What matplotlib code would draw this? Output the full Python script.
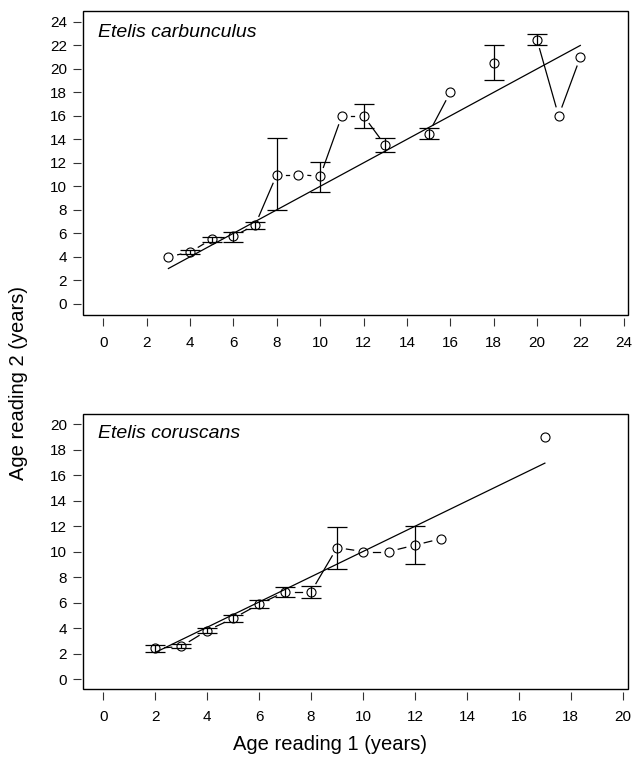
import numpy as np
import matplotlib
matplotlib.use('Agg')
import matplotlib.pyplot as plt
from matplotlib.patches import Rectangle

plt.rcParams['font.family'] = ['Liberation Sans', 'DejaVu Sans']

# -----------
# age readings, Etelis carbunculus (top panel)
# -----------
carb_x = [3, 4, 5, 6, 7, 8, 9, 10, 11, 12, 13, 15, 16, 18, 20, 21, 22]
carb_y = [4.0, 4.4, 5.5, 5.75, 6.7, 11.0, 11.0, 10.85, 16.0, 16.0, 13.5, 14.5, 18.0, 20.5, 22.5, 16.0, 21.0]
carb_lo = [np.nan, 4.2, 5.3, 5.3, 6.35, 8.0, np.nan, 9.55, np.nan, 15.0, 12.9, 14.0, np.nan, 19.05, 22.0, np.nan, np.nan]
carb_hi = [np.nan, 4.6, 5.7, 6.15, 7.0, 14.1, np.nan, 12.1, np.nan, 17.0, 14.15, 15.0, np.nan, 22.0, 23.0, np.nan, np.nan]
carb_fit = [3, 22]          # x range of the 1:1 line
carb_coef = [0.0, 1.0]      # intercept, slope

# -----------
# age readings, Etelis coruscans (bottom panel)
# -----------
cor_x = [2, 3, 4, 5, 6, 7, 8, 9, 10, 11, 12, 13, 17]
cor_y = [2.4, 2.55, 3.8, 4.75, 5.87, 6.84, 6.84, 10.3, 10.0, 10.0, 10.5, 11.0, 19.0]
cor_lo = [2.15, 2.4, 3.58, 4.5, 5.55, 6.45, 6.38, 8.6, np.nan, np.nan, 9.0, np.nan, np.nan]
cor_hi = [2.7, 2.75, 3.97, 5.0, 6.18, 7.24, 7.3, 11.9, np.nan, np.nan, 12.0, np.nan, np.nan]
cor_fit = [2, 17]
cor_coef = [0.1, 0.99]

W, H = 638, 760
fig = plt.figure(figsize=(W / 100, H / 100), dpi=100)


def b_lines(ax, x, y, gap=9.5):
    # R type="b": segments between neighbouring ages, cut short round each point
    tr = ax.transData
    for i in range(len(x) - 1):
        if x[i + 1] - x[i] != 1:
            continue
        p0 = tr.transform((x[i], y[i]))
        p1 = tr.transform((x[i + 1], y[i + 1]))
        d = p1 - p0
        L = np.hypot(*d)
        if L <= 2 * gap:
            continue
        u = d / L
        q0 = tr.inverted().transform(p0 + u * gap)
        q1 = tr.inverted().transform(p1 - u * gap)
        ax.plot([q0[0], q1[0]], [q0[1], q1[1]], color='black', lw=0.9)


def panel(rect, x, y, lo, hi, fit, coef, xlim, ylim, ticks_x, ticks_y, name):
    ax = fig.add_axes(rect)
    ax.set_xlim(xlim)
    ax.set_ylim(ylim)
    for s in ax.spines.values():
        s.set_visible(False)
    ax.spines['bottom'].set_position(('outward', 2))
    ax.spines['left'].set_position(('outward', 1.5))
    ax.add_patch(Rectangle((0, 0), 1, 1, transform=ax.transAxes, fill=False,
                           edgecolor='black', lw=1.0, clip_on=False))
    ax.set_xticks(ticks_x)
    ax.set_yticks(ticks_y)
    ax.tick_params(direction='out', length=6, width=0.8, color='#333333',
                   labelsize=11, pad=7)
    ax.tick_params(axis='y', pad=4)

    b_lines(ax, x, y)
    fx = np.array(fit)
    ax.plot(fx, coef[0] + coef[1] * fx, color='black', lw=0.9)

    x = np.array(x, float)
    lo = np.array(lo, float)
    hi = np.array(hi, float)
    m = ~np.isnan(lo)
    ax.errorbar(x[m], (lo[m] + hi[m]) / 2, yerr=(hi[m] - lo[m]) / 2, fmt='none',
                ecolor='black', elinewidth=0.9, capsize=7, capthick=0.9)
    ax.plot(x, y, 'o', ms=6.5, mfc='none', mec='black', mew=0.8)

    ax.text(0.028, 0.93, name, transform=ax.transAxes, fontsize=14,
            style='italic', va='center', ha='left')
    return ax


panel([83 / W, 1 - 315 / H, 545 / W, 304.3 / H], carb_x, carb_y, carb_lo, carb_hi,
      carb_fit, carb_coef, (-0.94, 24.2), (-0.96, 24.96),
      range(0, 25, 2), range(0, 25, 2), 'Etelis carbunculus')

panel([83 / W, 1 - 689.2 / H, 545 / W, 275.4 / H], cor_x, cor_y, cor_lo, cor_hi,
      cor_fit, cor_coef, (-0.78, 20.2), (-0.8, 20.8),
      range(0, 21, 2), range(0, 21, 2), 'Etelis coruscans')

fig.text(19 / W, 1 - 383 / H, 'Age reading 2 (years)', rotation=90,
         fontsize=14.5, ha='center', va='center')
fig.text(330 / W, 1 - 744 / H, 'Age reading 1 (years)',
         fontsize=14.5, ha='center', va='center')

plt.savefig('out.png', dpi=100)
